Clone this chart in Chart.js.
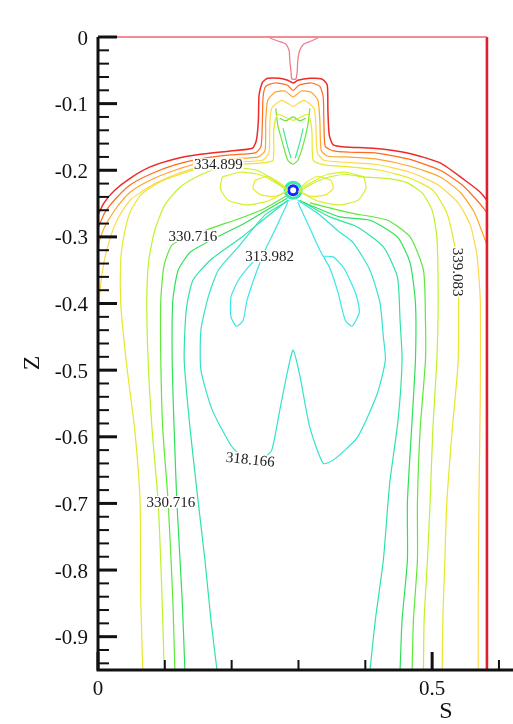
<!DOCTYPE html>
<html>
<head>
<meta charset="utf-8">
<style>
  html, body { margin: 0; padding: 0; background: #fff; overflow: hidden; }
  canvas { display: block; }
</style>
</head>
<body>
<canvas id="myChart" width="513" height="724"></canvas>
<script src="https://cdn.jsdelivr.net/npm/chart.js"></script>
<script>
// axis ticks
const sTicks = [0, 0.5];
const sMinor = [0.1, 0.2, 0.3, 0.4, 0.6];
const zTicks = [0, -0.1, -0.2, -0.3, -0.4, -0.5, -0.6, -0.7, -0.8, -0.9];

// domain edges (S, Z)
const edgeTop = [[0, 0], [0.582, 0]];
const edgeRight = [[0.582, 0], [0.582, -0.95]];

// contour lines, [S, Z] pairs
const neck = [[0.257,-0.0015],[0.269,-0.006],[0.281,-0.0105],[0.286,-0.020],[0.287,-0.035],[0.289,-0.053],[0.290,-0.063],
  [0.296,-0.063],[0.298,-0.053],[0.299,-0.035],[0.302,-0.020],[0.308,-0.0105],[0.319,-0.006],[0.329,-0.0015]];

const c355 = [[0,-0.267],[0.009,-0.249],[0.025,-0.230],[0.048,-0.212],[0.078,-0.195],[0.115,-0.183],[0.153,-0.176],[0.198,-0.171],
  [0.231,-0.167],[0.237,-0.155],[0.240,-0.125],[0.241,-0.087],[0.246,-0.068],[0.254,-0.062],[0.272,-0.062],[0.284,-0.065],
  [0.292,-0.069],[0.299,-0.065],[0.317,-0.062],[0.335,-0.063],[0.343,-0.072],[0.344,-0.110],[0.346,-0.147],[0.352,-0.162],
  [0.370,-0.165],[0.412,-0.167],[0.463,-0.174],[0.512,-0.189],[0.549,-0.215],[0.572,-0.233],[0.582,-0.245]];

const c351 = [[0,-0.287],[0.010,-0.264],[0.027,-0.242],[0.048,-0.222],[0.078,-0.206],[0.115,-0.192],[0.153,-0.183],[0.198,-0.177],
  [0.235,-0.174],[0.244,-0.164],[0.246,-0.125],[0.247,-0.090],[0.251,-0.074],[0.265,-0.069],[0.283,-0.072],[0.292,-0.080],
  [0.301,-0.072],[0.319,-0.069],[0.332,-0.074],[0.337,-0.090],[0.338,-0.125],[0.340,-0.164],[0.352,-0.171],[0.377,-0.173],
  [0.415,-0.174],[0.464,-0.183],[0.512,-0.200],[0.545,-0.222],[0.567,-0.245],[0.582,-0.263]];

const c347 = [[0,-0.312],[0.009,-0.287],[0.025,-0.260],[0.048,-0.233],[0.078,-0.215],[0.115,-0.200],[0.153,-0.189],[0.198,-0.183],
  [0.240,-0.180],[0.250,-0.170],[0.251,-0.125],[0.254,-0.095],[0.265,-0.083],[0.280,-0.081],[0.292,-0.090],[0.304,-0.081],
  [0.319,-0.083],[0.329,-0.095],[0.332,-0.125],[0.334,-0.170],[0.344,-0.179],[0.370,-0.180],[0.415,-0.183],[0.467,-0.194],
  [0.512,-0.210],[0.542,-0.233],[0.563,-0.263],[0.575,-0.293],[0.582,-0.312]];

const c343 = [[0,-0.425],[0.003,-0.380],[0.009,-0.338],[0.018,-0.302],[0.030,-0.272],[0.048,-0.245],[0.078,-0.224],[0.115,-0.207],
  [0.153,-0.195],[0.198,-0.188],[0.246,-0.185],[0.256,-0.173],[0.257,-0.132],[0.260,-0.107],[0.275,-0.095],[0.292,-0.104],
  [0.308,-0.095],[0.323,-0.107],[0.326,-0.132],[0.328,-0.173],[0.338,-0.185],[0.370,-0.188],[0.415,-0.191],[0.467,-0.203],
  [0.509,-0.222],[0.539,-0.249],[0.557,-0.282],[0.567,-0.327],[0.572,-0.395],[0.572,-0.545],[0.570,-0.695],[0.569,-0.845],[0.569,-0.950]];

const c339 = [[0.067,-0.950],[0.064,-0.845],[0.063,-0.698],[0.055,-0.590],[0.042,-0.485],[0.034,-0.399],[0.034,-0.335],[0.039,-0.297],
  [0.048,-0.263],[0.064,-0.237],[0.090,-0.219],[0.123,-0.206],[0.160,-0.195],[0.205,-0.191],[0.246,-0.189],[0.262,-0.185],
  [0.263,-0.140],[0.269,-0.116],[0.292,-0.125],[0.314,-0.116],[0.320,-0.140],[0.322,-0.185],[0.338,-0.192],[0.377,-0.195],
  [0.422,-0.200],[0.467,-0.212],[0.501,-0.230],[0.522,-0.264],[0.534,-0.315],[0.539,-0.357],[0.539,-0.485],[0.530,-0.590],
  [0.522,-0.698],[0.519,-0.785],[0.516,-0.875],[0.515,-0.950]];

const c335Left = [[0.099,-0.950],[0.096,-0.845],[0.090,-0.698],[0.081,-0.590],[0.075,-0.485],[0.073,-0.395],[0.076,-0.335],
  [0.085,-0.290],[0.100,-0.252],[0.123,-0.225],[0.153,-0.207],[0.180,-0.197],[0.213,-0.197],[0.237,-0.200],[0.251,-0.207],
  [0.269,-0.219],[0.284,-0.230]];
const c335Right = [[0.299,-0.233],[0.317,-0.222],[0.340,-0.212],[0.370,-0.206],[0.397,-0.210],[0.437,-0.213],[0.463,-0.219],
  [0.485,-0.234],[0.500,-0.260],[0.507,-0.300],[0.509,-0.395],[0.507,-0.485],[0.501,-0.590],[0.497,-0.698],[0.493,-0.785],
  [0.488,-0.875],[0.487,-0.950]];

const lobeLeftOuter = [[0.186,-0.210],[0.213,-0.203],[0.240,-0.206],[0.261,-0.216],[0.281,-0.230],[0.257,-0.245],[0.225,-0.252],
  [0.195,-0.245],[0.183,-0.227],[0.186,-0.210]];
const lobeRightOuter = [[0.398,-0.210],[0.371,-0.203],[0.344,-0.206],[0.323,-0.216],[0.302,-0.230],[0.326,-0.245],[0.359,-0.252],
  [0.389,-0.245],[0.401,-0.227],[0.398,-0.210]];
const lobeLeftInner = [[0.235,-0.215],[0.254,-0.209],[0.272,-0.219],[0.283,-0.230],[0.266,-0.239],[0.244,-0.237],[0.232,-0.227],[0.235,-0.215]];
const lobeRightInner = [[0.349,-0.215],[0.329,-0.209],[0.311,-0.219],[0.301,-0.230],[0.317,-0.239],[0.340,-0.237],[0.352,-0.227],[0.349,-0.215]];

const funnel = [[0.266,-0.107],[0.269,-0.132],[0.277,-0.162],[0.284,-0.185],[0.292,-0.191],[0.299,-0.185],[0.307,-0.162],[0.314,-0.132],[0.317,-0.107]];
const funnelBar = [[0.272,-0.122],[0.281,-0.126],[0.292,-0.120],[0.302,-0.126],[0.311,-0.122]];
const funnelInL = [[0.277,-0.137],[0.283,-0.162],[0.289,-0.182]];
const funnelInR = [[0.307,-0.137],[0.301,-0.162],[0.295,-0.182]];

const c331Left = [[0.115,-0.950],[0.112,-0.845],[0.105,-0.698],[0.097,-0.590],[0.094,-0.485],[0.094,-0.395],[0.099,-0.342],
  [0.111,-0.312],[0.138,-0.299],[0.175,-0.285],[0.213,-0.272],[0.250,-0.257],[0.281,-0.239]];
const c331Right = [[0.317,-0.249],[0.377,-0.264],[0.433,-0.275],[0.467,-0.300],[0.487,-0.350],[0.490,-0.425],[0.490,-0.485],
  [0.482,-0.590],[0.478,-0.698],[0.478,-0.785],[0.472,-0.875],[0.470,-0.950]];

const c327Left = [[0.130,-0.950],[0.126,-0.845],[0.118,-0.698],[0.114,-0.590],[0.111,-0.485],[0.112,-0.395],[0.120,-0.350],
  [0.138,-0.323],[0.175,-0.302],[0.220,-0.279],[0.257,-0.257],[0.283,-0.242]];
const c327Right = [[0.307,-0.248],[0.362,-0.270],[0.407,-0.275],[0.448,-0.300],[0.467,-0.339],[0.475,-0.399],[0.475,-0.485],
  [0.470,-0.575],[0.463,-0.698],[0.463,-0.785],[0.455,-0.875],[0.452,-0.950]];

const c322Left = [[0.178,-0.950],[0.169,-0.875],[0.160,-0.785],[0.150,-0.698],[0.138,-0.590],[0.129,-0.485],[0.132,-0.410],
  [0.142,-0.365],[0.168,-0.335],[0.213,-0.302],[0.250,-0.272],[0.284,-0.245]];
const c322Right = [[0.302,-0.245],[0.347,-0.270],[0.388,-0.285],[0.427,-0.315],[0.448,-0.360],[0.452,-0.425],[0.455,-0.485],
  [0.449,-0.575],[0.437,-0.665],[0.434,-0.698],[0.427,-0.785],[0.415,-0.875],[0.407,-0.950]];

const c318 = [[0.286,-0.245],[0.250,-0.267],[0.210,-0.315],[0.180,-0.350],[0.165,-0.390],[0.154,-0.440],[0.154,-0.500],[0.171,-0.560],
  [0.199,-0.613],[0.213,-0.628],[0.231,-0.637],[0.249,-0.631],[0.260,-0.620],[0.272,-0.560],[0.284,-0.500],[0.292,-0.470],
  [0.302,-0.508],[0.317,-0.586],[0.337,-0.640],[0.352,-0.635],[0.388,-0.601],[0.418,-0.535],[0.430,-0.485],[0.427,-0.450],
  [0.422,-0.399],[0.407,-0.350],[0.382,-0.309],[0.358,-0.290],[0.332,-0.267],[0.299,-0.245]];

const c314Left = [[0.284,-0.248],[0.266,-0.287],[0.250,-0.320],[0.237,-0.353],[0.223,-0.395],[0.217,-0.426],[0.207,-0.434],
  [0.199,-0.420],[0.199,-0.390],[0.210,-0.365],[0.228,-0.342],[0.250,-0.320]];
const c314Right = [[0.299,-0.248],[0.317,-0.287],[0.332,-0.320],[0.337,-0.329],[0.347,-0.347],[0.359,-0.383],[0.370,-0.425],
  [0.380,-0.434],[0.391,-0.413],[0.386,-0.386],[0.368,-0.347],[0.352,-0.330],[0.337,-0.329]];

const source = [[0.292, -0.230]];

// contour labels
const labelText = ['334.899', '330.716', '313.982', '318.166', '330.716', '339.083'];
const labelS = [0.180, 0.142, 0.257, 0.228, 0.109, 0.539];
const labelZ = [-0.191, -0.299, -0.329, -0.634, -0.698, -0.353];

function line(pts, color, width) {
  return {
    data: pts.map(p => ({ x: p[0], y: p[1] })),
    showLine: true,
    borderColor: color,
    borderWidth: width || 1.2,
    pointRadius: 0,
    tension: 0.2,
    clip: false
  };
}

var datasets = [
  line(edgeTop, '#ee6470', 1.6),
  line(edgeRight, '#e01e2e', 2.6),
  line(neck, '#f27c88', 1.3),
  line(c355, '#ee2a2a', 1.5),
  line(c351, '#ff6a1e'),
  line(c347, '#ffa526'),
  line(c343, '#ffd84a'),
  line(c339, '#e6e82a'),
  line(c335Left, '#bff22a'),
  line(c335Right, '#bff22a'),
  line(lobeLeftOuter, '#d6f02e'),
  line(lobeRightOuter, '#d6f02e'),
  line(lobeLeftInner, '#f0e82a'),
  line(lobeRightInner, '#f0e82a'),
  line(funnel, '#6ee63a'),
  line(funnelBar, '#5ee04a'),
  line(funnelInL, '#3ee89a'),
  line(funnelInR, '#3ee89a'),
  line(c331Left, '#5ee83a'),
  line(c331Right, '#5ee83a'),
  line(c327Left, '#2fe05a'),
  line(c327Right, '#2fe05a'),
  line(c322Left, '#2fe4a0'),
  line(c322Right, '#2fe4a0'),
  line(c318, '#35e2cc'),
  line(c314Left, '#3ae6e6'),
  line(c314Right, '#3ae6e6'),
  {
    data: source.map(p => ({ x: p[0], y: p[1] })),
    pointRadius: 8, pointBorderWidth: 3, pointBorderColor: '#3ce8b0', pointBackgroundColor: 'rgba(0,0,0,0)', clip: false
  },
  {
    data: source.map(p => ({ x: p[0], y: p[1] })),
    pointRadius: 4.5, pointBorderWidth: 3, pointBorderColor: '#1428ff', pointBackgroundColor: '#ffffff', clip: false
  }
];

const axesPlugin = {
  id: 'axesPlugin',
  afterDatasetsDraw(chart) {
    const ctx = chart.ctx;
    const xs = chart.scales.x, ys = chart.scales.y;
    const area = chart.chartArea;
    ctx.save();

    // contour labels with white boxes
    ctx.font = '15px "Liberation Serif"';
    ctx.textAlign = 'center';
    ctx.textBaseline = 'middle';
    const rot = [0, 0, 0, 6, 0, 90];
    for (let i = 0; i < labelText.length; i++) {
      const px = xs.getPixelForValue(labelS[i]);
      const py = ys.getPixelForValue(labelZ[i]);
      const w = ctx.measureText(labelText[i]).width;
      ctx.save();
      ctx.translate(px, py);
      ctx.rotate(rot[i] * Math.PI / 180);
      ctx.fillStyle = '#ffffff';
      ctx.fillRect(-w / 2 - 1, -6, w + 2, 12);
      ctx.fillStyle = '#222';
      ctx.fillText(labelText[i], 0, 1);
      ctx.restore();
    }

    // axis lines
    ctx.strokeStyle = '#111';
    ctx.lineWidth = 3;
    ctx.beginPath();
    ctx.moveTo(area.left, area.top);
    ctx.lineTo(area.left, area.bottom + 1.5);
    ctx.moveTo(area.left - 1.5, area.bottom);
    ctx.lineTo(area.right, area.bottom);
    ctx.stroke();

    // Z ticks, pointing into the plot
    for (const v of zTicks) {
      const py = ys.getPixelForValue(v);
      ctx.lineWidth = 3;
      ctx.beginPath();
      ctx.moveTo(area.left, py);
      ctx.lineTo(area.left + 19, py);
      ctx.stroke();
    }
    ctx.lineWidth = 2;
    for (let k = 1; k < 48; k++) {
      if (k % 5 === 0) continue;
      const py = ys.getPixelForValue(-0.02 * k);
      ctx.beginPath();
      ctx.moveTo(area.left, py);
      ctx.lineTo(area.left + 11, py);
      ctx.stroke();
    }

    // S ticks
    for (const v of sTicks) {
      const px = xs.getPixelForValue(v);
      ctx.lineWidth = 3;
      ctx.beginPath();
      ctx.moveTo(px, area.bottom);
      ctx.lineTo(px, area.bottom - 18);
      ctx.stroke();
    }
    ctx.lineWidth = 2;
    for (const v of sMinor) {
      const px = xs.getPixelForValue(v);
      ctx.beginPath();
      ctx.moveTo(px, area.bottom);
      ctx.lineTo(px, area.bottom - 10);
      ctx.stroke();
    }

    // tick labels
    ctx.fillStyle = '#111';
    ctx.font = '21px "Liberation Serif"';
    ctx.textAlign = 'right';
    ctx.textBaseline = 'middle';
    for (const v of zTicks) {
      ctx.fillText(v === 0 ? '0' : v.toFixed(1), area.left - 10, ys.getPixelForValue(v) + 2);
    }
    ctx.textAlign = 'center';
    ctx.textBaseline = 'top';
    for (const v of sTicks) {
      ctx.fillText(v === 0 ? '0' : String(v), xs.getPixelForValue(v), area.bottom + 9);
    }

    // axis titles
    ctx.font = '24px "Liberation Serif"';
    ctx.textBaseline = 'middle';
    ctx.fillText('S', 446, 712);
    ctx.save();
    ctx.translate(33, 363);
    ctx.rotate(-Math.PI / 2);
    ctx.fillText('Z', 0, 0);
    ctx.restore();

    ctx.restore();
  }
};

const config = {
  type: 'scatter',
  data: { datasets },
  options: {
    responsive: false,
    animation: false,
    devicePixelRatio: 1,
    layout: { autoPadding: false, padding: { left: 98, right: 0, top: 37, bottom: 54 } },
    plugins: { legend: { display: false }, tooltip: { enabled: false } },
    scales: {
      x: { type: 'linear', min: 0, max: 0.621, display: false },
      y: { type: 'linear', min: -0.95, max: 0, display: false }
    }
  },
  plugins: [axesPlugin]
};

const myChart = new Chart(document.getElementById('myChart'), config);
</script>
</body>
</html>
